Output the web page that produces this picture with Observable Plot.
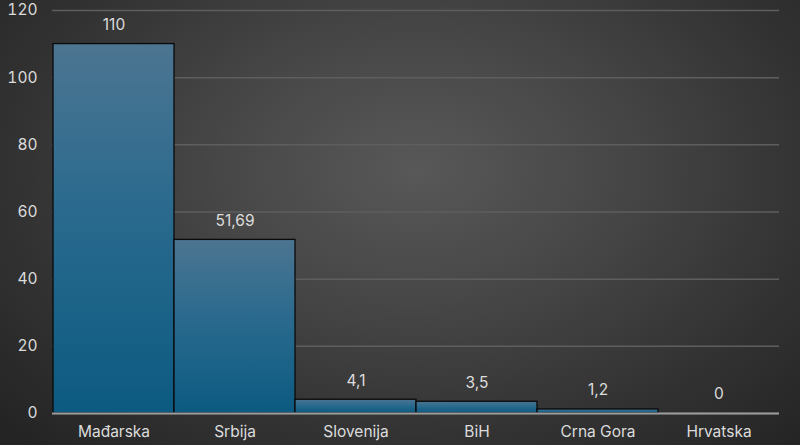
<!DOCTYPE html>
<html>
<head>
<meta charset="utf-8">
<script src="https://cdn.jsdelivr.net/npm/d3@7"></script>
<script src="https://cdn.jsdelivr.net/npm/@observablehq/plot@0.6"></script>
<style>
  html, body { margin: 0; padding: 0; }
  body { width: 800px; height: 445px; overflow: hidden;
    background: radial-gradient(ellipse 70% 85% at 52% 38%, #585858 0%, #474747 35%, #333333 70%, #242424 100%); }
  #chart svg { display: block; background: transparent; }
</style>
</head>
<body>
<div id="chart"></div>
<script>
const countries = ["Mađarska", "Srbija", "Slovenija", "BiH", "Crna Gora", "Hrvatska"];
const values = [110, 51.69, 4.1, 3.5, 1.2, 0];
const yTicks = [0, 20, 40, 60, 80, 100, 120];

const data = countries.map((c, i) => ({country: c, value: values[i]}));
const fmt = v => String(v).replace(".", ",");

const chart = Plot.plot({
  width: 800,
  height: 445,
  marginLeft: 52,
  marginRight: 21,
  marginTop: 10,
  marginBottom: 32,
  style: {background: "transparent", color: "#d9d9d9", fontFamily: "Inter, 'Open Sans', sans-serif", fontSize: "15px"},
  x: {domain: countries, padding: 0, label: null},
  y: {domain: [0, 120], label: null},
  marks: [
    Plot.gridY(yTicks, {stroke: "#5e5e5e", strokeOpacity: 1, strokeWidth: 1.5}),
    Plot.barY(data, {x: "country", y: "value", fill: "url(#barGrad)", stroke: "#0a0a0a", strokeWidth: 1.3, insetLeft: 0, insetRight: 0}),
    Plot.ruleY([0], {stroke: "#9c9c9c", strokeWidth: 2}),
    Plot.text(data, {x: "country", y: "value", text: d => fmt(d.value), dy: -19, lineAnchor: "middle", fill: "#dcdcdc", fontSize: 15.5}),
    Plot.axisX({tickSize: 0, tickPadding: 12, fontSize: 15.5, fill: "#dcdcdc", label: null}),
    Plot.axisY(yTicks, {tickSize: 0, tickPadding: 15, fontSize: 15.5, fill: "#dcdcdc", label: null})
  ]
});

const ns = "http://www.w3.org/2000/svg";
const defs = document.createElementNS(ns, "defs");
defs.innerHTML = `<linearGradient id="barGrad" x1="0" y1="0" x2="0" y2="1">
  <stop offset="0%" stop-color="#4c7591"/>
  <stop offset="45%" stop-color="#2a6a8e"/>
  <stop offset="100%" stop-color="#0c5a81"/>
</linearGradient>`;
chart.insertBefore(defs, chart.firstChild);
document.getElementById("chart").appendChild(chart);
</script>
</body>
</html>
